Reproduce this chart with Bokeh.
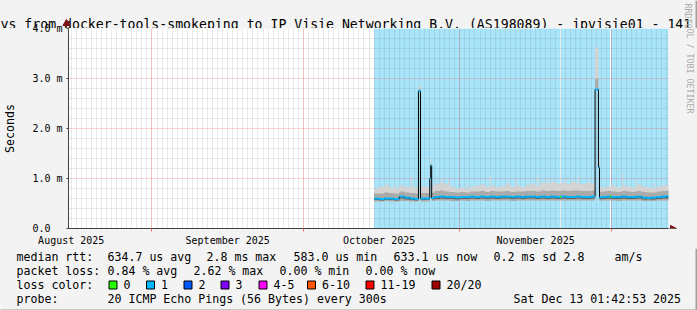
import math
import pandas as pd
from bokeh.plotting import figure
from bokeh.layouts import column
from bokeh.models import Range1d, FixedTicker, Grid, Arrow, NormalHead
from bokeh.core.properties import value
from bokeh.embed import file_html
from bokeh.resources import INLINE

FONT = "DejaVu Sans Mono"

# ---------------- data (milliseconds) ----------------
first_day = "2025-10-15"
median_ms = [0.60, 0.59, 0.60, 0.60, 0.59, 0.64, 0.62, 0.60, 0.59, 0.60,
             0.60, 0.61, 0.63, 0.64, 0.63, 0.63, 0.62, 0.63, 0.63, 0.64,
             0.63, 0.64, 0.63, 0.64, 0.63, 0.64, 0.64, 0.63, 0.64, 0.63,
             0.64, 0.64, 0.63, 0.64, 0.63, 0.64, 0.63, 0.64, 0.63, 0.63,
             0.64, 0.63, 0.63, 0.64, 0.62, 0.63, 0.64, 0.63, 0.63, 0.64,
             0.63, 0.63, 0.64, 0.62, 0.61, 0.62, 0.63, 0.64, 0.65]
smoke_low_ms = [0.54, 0.54, 0.55, 0.54, 0.54, 0.55, 0.55, 0.54, 0.54, 0.54,
                0.54, 0.55, 0.56, 0.56, 0.56, 0.55, 0.55, 0.56, 0.55, 0.56,
                0.56, 0.56, 0.55, 0.56, 0.56, 0.56, 0.56, 0.55, 0.56, 0.56,
                0.56, 0.56, 0.56, 0.56, 0.56, 0.56, 0.56, 0.56, 0.56, 0.56,
                0.56, 0.56, 0.56, 0.56, 0.55, 0.56, 0.56, 0.56, 0.55, 0.56,
                0.56, 0.56, 0.56, 0.55, 0.55, 0.55, 0.56, 0.56, 0.56]
smoke_q1_ms = [0.57, 0.56, 0.57, 0.57, 0.56, 0.60, 0.58, 0.57, 0.56, 0.57,
               0.57, 0.58, 0.59, 0.60, 0.59, 0.59, 0.58, 0.59, 0.59, 0.60,
               0.59, 0.60, 0.59, 0.60, 0.59, 0.60, 0.60, 0.59, 0.60, 0.59,
               0.60, 0.60, 0.59, 0.60, 0.59, 0.60, 0.59, 0.60, 0.59, 0.59,
               0.60, 0.59, 0.59, 0.60, 0.58, 0.59, 0.60, 0.59, 0.59, 0.60,
               0.59, 0.59, 0.60, 0.58, 0.58, 0.58, 0.59, 0.60, 0.60]
smoke_q3_ms = [0.70, 0.70, 0.72, 0.71, 0.70, 0.74, 0.72, 0.71, 0.70, 0.71,
               0.71, 0.72, 0.75, 0.76, 0.74, 0.73, 0.72, 0.73, 0.72, 0.74,
               0.74, 0.75, 0.73, 0.75, 0.74, 0.74, 0.75, 0.73, 0.74, 0.74,
               0.75, 0.75, 0.74, 0.76, 0.75, 0.76, 0.75, 0.76, 0.75, 0.76,
               0.76, 0.75, 0.75, 0.76, 0.73, 0.74, 0.75, 0.74, 0.73, 0.75,
               0.74, 0.73, 0.75, 0.73, 0.72, 0.72, 0.74, 0.75, 0.76]
smoke_high_ms = [0.80, 0.84, 0.86, 0.82, 0.80, 0.86, 0.84, 0.83, 0.82, 0.84,
                 0.83, 0.86, 0.90, 0.92, 0.88, 0.84, 0.80, 0.82, 0.80, 0.84,
                 0.86, 0.88, 0.84, 0.86, 0.83, 0.85, 0.88, 0.84, 0.86, 0.83,
                 0.87, 0.90, 0.86, 0.92, 0.90, 0.94, 0.90, 0.92, 0.88, 0.94,
                 0.90, 0.88, 0.92, 0.90, 0.84, 0.82, 0.84, 0.86, 0.82, 0.86,
                 0.84, 0.82, 0.88, 0.84, 0.82, 0.80, 0.84, 0.86, 0.88]

# short high-latency episodes
spike_start = ["2025-10-23 19:00", "2025-10-26 01:00", "2025-10-26 05:30",
               "2025-11-27 19:00", "2025-11-28 11:00"]
spike_end = ["2025-10-24 05:00", "2025-10-26 05:30", "2025-10-26 10:00",
             "2025-11-28 11:00", "2025-11-28 16:00"]
spike_median_ms = [2.75, 1.00, 1.26, 2.78, 1.22]
spike_mid_ms = [2.80, 1.02, 1.30, 3.00, 1.30]
spike_top_ms = [2.86, 1.04, 1.40, 3.62, 1.60]

# isolated smoke tips
tip_time = ["2025-10-17 12:00", "2025-10-19 06:00", "2025-10-22 10:00",
            "2025-10-28 12:00", "2025-10-29 18:00", "2025-11-02 12:00",
            "2025-11-07 00:00", "2025-11-10 10:00", "2025-11-12 06:00",
            "2025-11-16 10:00", "2025-11-18 12:00", "2025-11-22 00:00",
            "2025-11-24 12:00", "2025-12-03 05:00", "2025-12-06 00:00",
            "2025-12-09 12:00"]
tip_top_ms = [0.90, 0.88, 1.04, 1.00, 0.98, 0.90, 1.06, 0.96, 0.98,
              1.06, 1.00, 0.98, 1.02, 1.10, 0.96, 0.92]

# periods without packet loss (green median, no loss background)
zero_loss_start = ["2025-11-20 20:00", "2025-11-30 18:00"]
zero_loss_end = ["2025-11-21 01:00", "2025-11-30 23:00"]

view_start = "2025-08-15 11:00"
view_end = "2025-12-12 08:10"
month_starts = ["2025-09-01", "2025-10-01", "2025-11-01", "2025-12-01"]
month_label_at = ["2025-08-16", "2025-09-16", "2025-10-16", "2025-11-16"]
month_labels = ["August 2025", "September 2025", "October 2025", "November 2025"]
y_ticks = [0, 1, 2, 3, 4]
y_tick_labels = ["0.0\u00a0\u00a0", "1.0 m", "2.0 m", "3.0 m", "4.0 m"]
y_minor = [0.2, 0.4, 0.6, 0.8, 1.2, 1.4, 1.6, 1.8, 2.2, 2.4, 2.6, 2.8,
           3.2, 3.4, 3.6, 3.8]

loss_labels = ["0", "1", "2", "3", "4-5", "6-10", "11-19", "20/20"]
loss_colors = ["#26ff00", "#00b8ff", "#0059ff", "#7e00ff", "#ff00ff",
               "#ff5500", "#ff0000", "#a00000"]

title_text = "ys from docker-tools-smokeping to IP Visie Networking B.V. (AS198089) - ipvisie01 - 141"
watermark_parts = ["RRDTO", "OL / TOBI OETIKER"]
rtt_stats = ["634.7 us avg", "2.8 ms max", "583.0 us min", "633.1 us now",
             "0.2 ms sd", "2.8", "am/s"]
loss_stats = ["0.84 % avg", "2.62 % max", "0.00 % min", "0.00 % now"]
probe_text = "20 ICMP Echo Pings (56 Bytes) every 300s"
stamp_text = "Sat Dec 13 01:42:53 2025"

# ---------------- geometry ----------------
W, H = 697, 310
FL, FR, FT, FB = 66, 666, 28, 228     # plot area edges in canvas px
XLAB_H = 18                           # x-axis label band below the plot
OVERLAP = 6                           # main plot reaches up into the title strip
TOP_H = FT
MAIN_H = OVERLAP + FB - FT + XLAB_H
BOT_H = H - TOP_H - MAIN_H + OVERLAP
BG = "#f3f3f3"
EDGE = "#a0a0a0"
AX = "#404040"
HEAD = "#7f1010"

vs, ve = pd.Timestamp(view_start), pd.Timestamp(view_end)
span = ve - vs


def tx(px):
    return vs + span * ((px - FL) / (FR - FL))


def ms(ts):
    return int(pd.Timestamp(ts).value // 10**6)


# ---------------- build series ----------------
days = pd.date_range(first_day, periods=len(median_ms), freq="D")
one_day = pd.Timedelta(days=1)
spikes = sorted(zip(pd.to_datetime(spike_start), pd.to_datetime(spike_end),
                    spike_median_ms, spike_mid_ms, spike_top_ms))

seg = dict(l=[], r=[], med=[], lo=[], q1=[], q3=[], hi=[])


def add(l, r, med, lo, q1, q3, hi):
    seg["l"].append(l); seg["r"].append(r); seg["med"].append(med)
    seg["lo"].append(lo); seg["q1"].append(q1); seg["q3"].append(q3)
    seg["hi"].append(hi)


for i, d in enumerate(days):
    l, r = d, d + one_day
    cur = l
    base = (median_ms[i], smoke_low_ms[i], smoke_q1_ms[i], smoke_q3_ms[i], smoke_high_ms[i])
    for s, e, m, mid, top in spikes:
        if s >= r or e <= l:
            continue
        s2, e2 = max(s, l), min(e, r)
        if s2 > cur:
            add(cur, s2, *base)
        add(s2, e2, m, m, m, mid, top)
        cur = e2
    if cur < r:
        add(cur, r, *base)

step_x = seg["l"] + [seg["r"][-1]]


def stepy(k):
    return seg[k] + [seg[k][-1]]


def tfont(size):
    return dict(text_font=value(FONT), text_font_size=value(size))


def strip_fig(h):
    f = figure(width=W, height=h, x_range=Range1d(0, W), y_range=Range1d(0, h),
               min_border=0, output_backend="svg", toolbar_location=None,
               x_axis_location=None, y_axis_location=None, frame_align=False)
    f.background_fill_color = BG
    f.border_fill_color = BG
    f.outline_line_color = None
    f.grid.visible = False
    return f


# ================= top strip: title =================
top = strip_fig(TOP_H)
top.text(x=[0], y=[TOP_H - 23.5], text=[title_text], text_color="black",
         text_baseline="alphabetic", text_align="left", **tfont("13.2px"))
top.text(x=[687], y=[TOP_H - 3], text=[watermark_parts[0]], text_color="#aaaaaa",
         angle=-math.pi / 2, text_baseline="middle", text_align="left", **tfont("8.3px"))
top.segment(x0=[FL], y0=[0], x1=[FL], y1=[TOP_H - 22], line_color=AX, line_width=1)
top.scatter(x=[FL], y=[TOP_H - 23], marker="triangle", size=7,
            fill_color=HEAD, line_color=HEAD)
top.quad(left=[W - 2], right=[W], bottom=[0], top=[TOP_H], fill_color=EDGE, line_color=None)

# ================= main plot =================
p = figure(frame_width=W - FL, frame_height=FB - FT, x_axis_type="datetime",
           x_range=Range1d(vs, tx(W)), y_range=Range1d(0, 4.0),
           min_border_left=FL, min_border_right=0,
           min_border_top=OVERLAP, min_border_bottom=XLAB_H, frame_align=False,
           margin=(-OVERLAP, 0, 0, 0),
           output_backend="svg", toolbar_location=None, title=None)
p.background_fill_color = BG
p.border_fill_color = None
p.outline_line_color = None
p.xgrid.visible = False
p.ygrid.visible = False

# plot canvas + loss background
p.quad(left=[vs], right=[ve], bottom=[0], top=[4.0], fill_color="white",
       line_color=None, level="image")
BLUE_BG = "#a8e4fa"
p.quad(left=[days[0]], right=[ve], bottom=[0], top=[4.0],
       fill_color=BLUE_BG, line_color=None, level="image")
p.quad(left=pd.to_datetime(zero_loss_start), right=pd.to_datetime(zero_loss_end),
       bottom=0, top=4.0, fill_color="white", line_color=None, level="image")

# dotted grids
xb = (ms(vs), ms(ve))
day_ticks = [ms(t) for t in pd.date_range("2025-08-16", ve, freq="D")]
GREY_A, RED_A = 0.32, 0.32
p.add_layout(Grid(dimension=0, ticker=FixedTicker(ticks=day_ticks), bounds=(0, 4),
                  grid_line_color="#808080", grid_line_alpha=GREY_A, grid_line_dash="1 1"))
p.add_layout(Grid(dimension=1, ticker=FixedTicker(ticks=y_minor), bounds=xb,
                  grid_line_color="#808080", grid_line_alpha=GREY_A, grid_line_dash="1 1"))
p.add_layout(Grid(dimension=0, ticker=FixedTicker(ticks=[ms(t) for t in month_starts]),
                  bounds=(0, 4), grid_line_color="#ff0000", grid_line_alpha=RED_A,
                  grid_line_dash="1 1"))
p.add_layout(Grid(dimension=1, ticker=FixedTicker(ticks=[1, 2, 3, 4]), bounds=xb,
                  grid_line_color="#ff0000", grid_line_alpha=RED_A, grid_line_dash="1 1"))

# smoke
LIGHT, MEDIUM, DARK = "#d3d3d3", "#aaaaaa", "#606060"
p.varea_step(x=step_x, y1=stepy("lo"), y2=stepy("hi"), step_mode="after", fill_color=LIGHT)
tw = pd.Timedelta(hours=6)
tt = pd.to_datetime(tip_time)
p.quad(left=tt - tw / 2, right=tt + tw / 2, bottom=0.7, top=tip_top_ms,
       fill_color=LIGHT, line_color=None)
p.varea_step(x=step_x, y1=stepy("lo"), y2=stepy("q3"), step_mode="after", fill_color=MEDIUM)
p.varea_step(x=step_x, y1=stepy("q1"), y2=stepy("med"), step_mode="after", fill_color=DARK)

# median line: black steps, loss-coloured plateaus
line_x, line_y = [], []
for l, r, v in zip(seg["l"], seg["r"], seg["med"]):
    line_x += [l, r]
    line_y += [v, v]
p.line(line_x, line_y, line_color="black", line_width=1)
p.segment(x0=seg["l"], y0=seg["med"], x1=seg["r"], y1=seg["med"],
          line_color=loss_colors[1], line_width=2)
zl_s, zl_e = pd.to_datetime(zero_loss_start), pd.to_datetime(zero_loss_end)
zl_v = []
for s in zl_s:
    v = median_ms[0]
    for l, r, m in zip(seg["l"], seg["r"], seg["med"]):
        if l <= s < r:
            v = m
    zl_v.append(v)
p.segment(x0=zl_s, y0=zl_v, x1=zl_e, y1=zl_v, line_color=loss_colors[0], line_width=2)

# margin to the right of the plot area
p.quad(left=[ve], right=[tx(W)], bottom=[0], top=[4.0], fill_color=BG, line_color=None)
p.quad(left=[tx(W - 2)], right=[tx(W + 1)], bottom=[0], top=[4.0], fill_color=EDGE,
       line_color=None)
p.text(x=[tx(687)], y=[4.0], text=[watermark_parts[1]], text_color="#aaaaaa",
       angle=-math.pi / 2, text_baseline="middle", text_align="left", **tfont("8.3px"))

# axes
xa = p.xaxis[0]
xa.ticker = FixedTicker(ticks=[ms(t) for t in month_label_at],
                        minor_ticks=[ms(t) for t in month_starts])
xa.major_label_overrides = {ms(t): lab for t, lab in zip(month_label_at, month_labels)}
xa.bounds = xb
xa.axis_label = None
xa.axis_label_standoff = 0
xa.major_tick_line_color = None
xa.major_tick_in = 0
xa.major_tick_out = 0
xa.minor_tick_line_color = "#e07070"
xa.minor_tick_in = 0
xa.minor_tick_out = 3
xa.major_label_standoff = 3
xa.axis_line_color = AX
xa.major_label_text_font = FONT
xa.major_label_text_font_size = "10px"
xa.major_label_text_color = "black"

ya = p.yaxis[0]
ya.ticker = FixedTicker(ticks=y_ticks)
ya.major_label_overrides = {t: lab for t, lab in zip(y_ticks, y_tick_labels)}
ya.major_tick_in = 0
ya.major_tick_out = 2
ya.major_tick_line_color = AX
ya.minor_tick_line_color = None
ya.major_label_standoff = 4
ya.axis_line_color = AX
ya.major_label_text_font = FONT
ya.major_label_text_font_size = "10px"
ya.major_label_text_color = "black"
ya.axis_label = "Seconds"
ya.axis_label_text_font = FONT
ya.axis_label_text_font_size = "11.6px"
ya.axis_label_text_font_style = "normal"
ya.axis_label_text_color = "black"
ya.axis_label_standoff = 12

p.add_layout(Arrow(end=NormalHead(size=6, fill_color=HEAD, line_color=HEAD),
                   x_start=ms(ve), y_start=0, x_end=ms(tx(674)), y_end=0,
                   line_color=AX, line_width=1))

# ================= bottom strip: legend =================
bot = strip_fig(BOT_H)
Y0 = H - BOT_H                 # canvas y of the strip's top edge


def by(cy):
    return BOT_H - (cy - Y0)


rows_x, rows_y, rows_t = [], [], []


def put(cx, cy, s):
    rows_x.append(cx); rows_y.append(by(cy)); rows_t.append(s)


put(16, 254, "median rtt:")
for cx, s in zip([107, 206, 293, 393, 493, 563, 614], rtt_stats):
    put(cx, 254, s)
put(16, 268, "packet loss:")
for cx, s in zip([107, 193, 279, 365], loss_stats):
    put(cx, 268, s)
put(16, 282, "loss color:")
sq_x = [108, 145.5, 183, 220, 258, 306.5, 365, 431]
for cx, lab in zip(sq_x, loss_labels):
    put(cx + 15, 282, lab)
put(16, 296, "probe:")
put(107, 296, probe_text)
put(513, 296, stamp_text)

bot.text(x=rows_x, y=rows_y, text=rows_t, text_color="black",
         text_baseline="middle", text_align="left", **tfont("11.6px"))
bot.quad(left=[x + 0.5 for x in sq_x], right=[x + 8.5 for x in sq_x],
         top=by(278.5), bottom=by(286.5), fill_color=loss_colors,
         line_color="black", line_width=1)
bot.quad(left=[W - 2], right=[W], bottom=[0], top=[BOT_H], fill_color=EDGE, line_color=None)
bot.quad(left=[0], right=[W], bottom=[0], top=[3], fill_color=EDGE, line_color=None)

layout = column(top, p, bot, spacing=0, styles={"background-color": BG})
open("out.html", "w").write(file_html(layout, INLINE))
